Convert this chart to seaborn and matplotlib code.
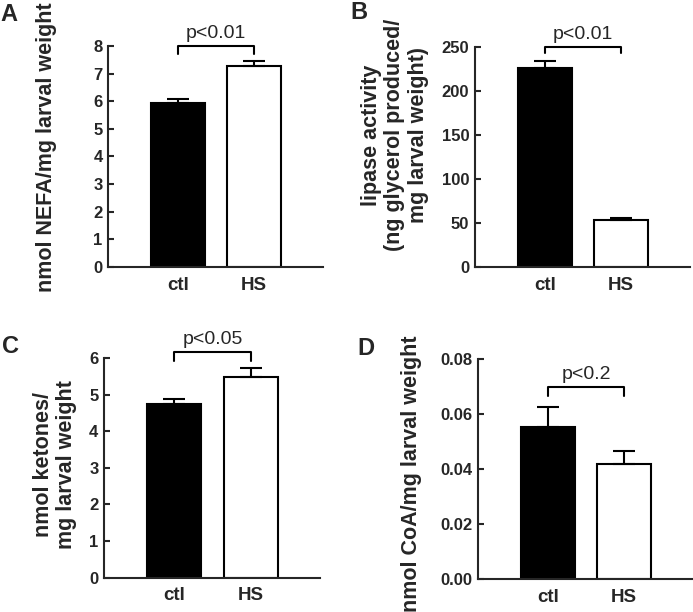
import matplotlib
matplotlib.use('Agg')
import matplotlib.pyplot as plt
import pandas as pd
import seaborn as sns

# values (mean, upper SEM)
groups = ['ctl', 'HS']

nefa_mean = [5.95, 7.28]
nefa_err = [0.12, 0.16]

lipase_mean = [226.5, 53.4]
lipase_err = [7.5, 2.0]

ketone_mean = [4.75, 5.49]
ketone_err = [0.13, 0.23]

coa_mean = [0.0553, 0.0418]
coa_err = [0.0074, 0.0047]

p_labels = ['p<0.01', 'p<0.01', 'p<0.05', 'p<0.2']
ylabels = ['nmol NEFA/mg larval weight',
           'lipase activity\n(ng glycerol produced/\nmg larval weight)',
           'nmol ketones/\nmg larval weight',
           'nmol CoA/mg larval weight']

sns.set_theme(style='ticks')
plt.rcParams['font.family'] = ['Liberation Sans', 'DejaVu Sans']
plt.rcParams['axes.linewidth'] = 1.5

fig = plt.figure(figsize=(6.93, 6.12), dpi=100)

# axes rectangles in figure fraction
rects = [
    [0.156, 0.564, 0.310, 0.361],
    [0.685, 0.564, 0.311, 0.359],
    [0.150, 0.056, 0.312, 0.359],
    [0.690, 0.054, 0.310, 0.359],
]
means = [nefa_mean, lipase_mean, ketone_mean, coa_mean]
errs = [nefa_err, lipase_err, ketone_err, coa_err]
ylims = [8, 250, 6, 0.08]
yticks = [range(0, 9), range(0, 251, 50), range(0, 7), [0, 0.02, 0.04, 0.06, 0.08]]
# bracket (bottom of legs, top)
brackets = [(7.7, 8.0), (243, 250), (5.92, 6.16), (0.0665, 0.0698)]
label_x = [-0.237, -0.214, -0.125, -0.26]
label_y = [0.54, 0.60, 0.514, 0.48]
letters = ['A', 'B', 'C', 'D']
letter_pos = [(0.0, 0.995), (0.505, 0.998), (0.003, 0.452), (0.515, 0.450)]

for i in range(4):
    ax = fig.add_axes(rects[i])
    df = pd.DataFrame({'group': groups, 'value': means[i]})
    sns.barplot(data=df, x='group', y='value', hue='group',
                palette={'ctl': 'black', 'HS': 'white'},
                edgecolor='black', linewidth=1.5, width=0.71,
                legend=False, ax=ax)
    ax.errorbar([0, 1], means[i], yerr=[[0, 0], errs[i]], fmt='none',
                ecolor='black', elinewidth=1.5, capsize=8, capthick=1.5,
                zorder=3)

    ax.set_xlim(-0.92, 1.91)
    ax.set_ylim(0, ylims[i])
    ax.set_yticks(list(yticks[i]))
    if i == 3:
        ax.set_yticklabels(['%.2f' % t for t in yticks[i]])
    sns.despine(ax=ax)
    ax.tick_params(axis='y', direction='in', length=4, width=1.5, pad=4,
                   labelsize=12)
    ax.tick_params(axis='x', length=0, pad=7, labelsize=13.5)
    for lab in ax.get_yticklabels() + ax.get_xticklabels():
        lab.set_fontweight('bold')

    ax.set_xlabel('')
    ax.set_ylabel(ylabels[i], fontsize=15.5, fontweight='bold', linespacing=1.15)
    ax.yaxis.set_label_coords(label_x[i], label_y[i])

    lo, hi = brackets[i]
    ax.plot([0, 0, 1, 1], [lo, hi, hi, lo], color='black', lw=1.5,
            clip_on=False)
    ax.annotate(p_labels[i], xy=(0.5, hi), xytext=(0, 3),
                textcoords='offset points', ha='center', va='bottom',
                fontsize=14, annotation_clip=False)

    fig.text(letter_pos[i][0], letter_pos[i][1], letters[i], fontsize=17,
             fontweight='bold', ha='left', va='top')

fig.savefig('out.png', dpi=100)
